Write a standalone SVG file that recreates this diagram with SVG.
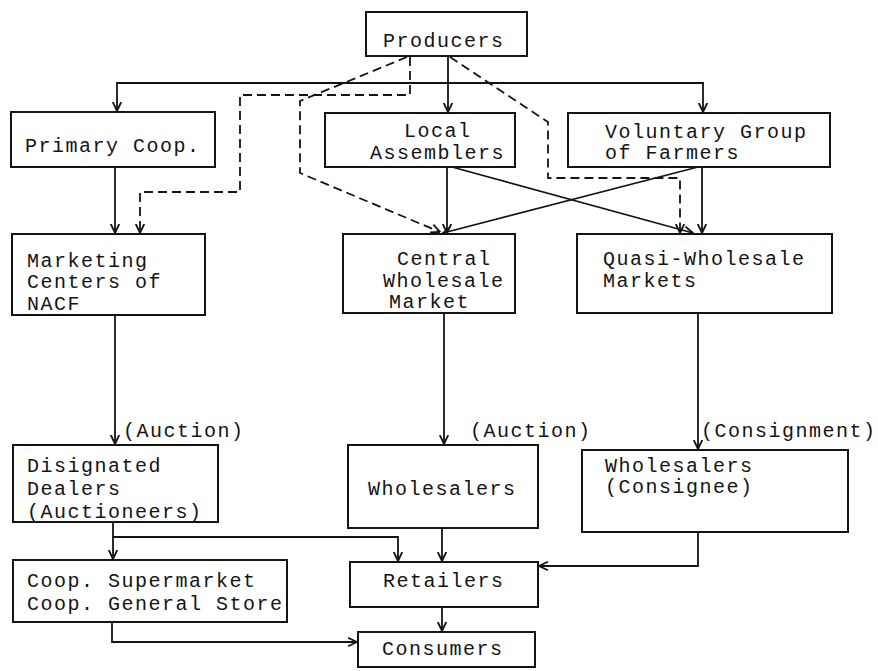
<svg xmlns="http://www.w3.org/2000/svg" width="878" height="671" viewBox="0 0 878 671">
  <defs>
    <style>
      .box { fill: #ffffff; stroke: #141414; stroke-width: 2; }
      .lbl { font-family: "Liberation Mono", "DejaVu Sans Mono", monospace; font-size: 20px; letter-spacing: 1.5px; fill: #141414; }
      .ln { fill: none; stroke: #141414; stroke-width: 1.8; }
      .dash { fill: none; stroke: #141414; stroke-width: 1.8; stroke-dasharray: 9 5; }
    </style>
    <marker id="arr" viewBox="0 0 10 10" refX="9.5" refY="5" markerWidth="10" markerHeight="10" markerUnits="userSpaceOnUse" orient="auto">
      <path d="M0.5,0.8 L9.5,5 L0.5,9.2" fill="none" stroke="#141414" stroke-width="1.8"/>
    </marker>
  </defs>
  <rect width="878" height="671" fill="#ffffff"/>

  <!-- flows -->
  <g id="connectors">
    <!-- Producers to the first-level bodies -->
    <path class="ln" d="M448,56 V112" marker-end="url(#arr)"/>
    <path class="ln" d="M448,83 H117 V111" marker-end="url(#arr)"/>
    <path class="ln" d="M448,83 H703 V112" marker-end="url(#arr)"/>
    <!-- first level to markets -->
    <path class="ln" d="M115,167 V233" marker-end="url(#arr)"/>
    <path class="ln" d="M447,167 V233" marker-end="url(#arr)"/>
    <path class="ln" d="M452,167 L693,233" marker-end="url(#arr)"/>
    <path class="ln" d="M698,167 L443,233" marker-end="url(#arr)"/>
    <path class="ln" d="M702,167 V233" marker-end="url(#arr)"/>
    <!-- direct shipments (dashed) -->
    <path class="dash" d="M410,57 V95 H240 V192 H140 V233" marker-end="url(#arr)"/>
    <path class="dash" d="M407,57 L300,101 V173 L440,232" marker-end="url(#arr)"/>
    <path class="dash" d="M450,57 L548,122 V178 H680 V233" marker-end="url(#arr)"/>
    <!-- markets to dealers / wholesalers -->
    <path class="ln" d="M115,315 V444" marker-end="url(#arr)"/>
    <path class="ln" d="M444,313 V444" marker-end="url(#arr)"/>
    <path class="ln" d="M698,313 V449" marker-end="url(#arr)"/>
    <!-- to retail level -->
    <path class="ln" d="M113,522 V559" marker-end="url(#arr)"/>
    <path class="ln" d="M113,537 H398 V561" marker-end="url(#arr)"/>
    <path class="ln" d="M442,528 V561" marker-end="url(#arr)"/>
    <path class="ln" d="M698,532 V566 H539" marker-end="url(#arr)"/>
    <!-- to consumers -->
    <path class="ln" d="M442,607 V631" marker-end="url(#arr)"/>
    <path class="ln" d="M112,622 V642 H357" marker-end="url(#arr)"/>
  </g>

  <g id="lbl-auction-1"><text class="lbl" x="123" y="437">(Auction)</text></g>
  <g id="lbl-auction-2"><text class="lbl" x="470" y="437">(Auction)</text></g>
  <g id="lbl-consignment"><text class="lbl" x="701" y="437">(Consignment)</text></g>

  <g id="producers">
    <rect class="box" x="366" y="12" width="161" height="44"/>
    <text class="lbl" x="383" y="47">Producers</text>
  </g>
  <g id="primary-coop">
    <rect class="box" x="11" y="112" width="204" height="55"/>
    <text class="lbl" x="25" y="152">Primary Coop.</text>
  </g>
  <g id="local-assemblers">
    <rect class="box" x="325" y="113" width="190" height="54"/>
    <text class="lbl" x="404" y="137">Local</text>
    <text class="lbl" x="370" y="159">Assemblers</text>
  </g>
  <g id="voluntary-group">
    <rect class="box" x="568" y="113" width="262" height="54"/>
    <text class="lbl" x="605" y="138">Voluntary Group</text>
    <text class="lbl" x="605" y="159">of Farmers</text>
  </g>
  <g id="marketing-centers">
    <rect class="box" x="12" y="234" width="193" height="81"/>
    <text class="lbl" x="27" y="267">Marketing</text>
    <text class="lbl" x="27" y="288">Centers of</text>
    <text class="lbl" x="27" y="310">NACF</text>
  </g>
  <g id="central-wholesale">
    <rect class="box" x="343" y="234" width="172" height="79"/>
    <text class="lbl" x="397" y="265">Central</text>
    <text class="lbl" x="383" y="287">Wholesale</text>
    <text class="lbl" x="389" y="308">Market</text>
  </g>
  <g id="quasi-wholesale">
    <rect class="box" x="577" y="234" width="255" height="79"/>
    <text class="lbl" x="603" y="265">Quasi-Wholesale</text>
    <text class="lbl" x="603" y="287">Markets</text>
  </g>
  <g id="designated-dealers">
    <rect class="box" x="13" y="445" width="205" height="77"/>
    <text class="lbl" x="27" y="472">Disignated</text>
    <text class="lbl" x="27" y="495">Dealers</text>
    <text class="lbl" x="27" y="518">(Auctioneers)</text>
  </g>
  <g id="wholesalers">
    <rect class="box" x="348" y="445" width="190" height="83"/>
    <text class="lbl" x="368" y="495">Wholesalers</text>
  </g>
  <g id="wholesalers-consignee">
    <rect class="box" x="582" y="450" width="266" height="82"/>
    <text class="lbl" x="605" y="472">Wholesalers</text>
    <text class="lbl" x="605" y="493">(Consignee)</text>
  </g>
  <g id="coop-stores">
    <rect class="box" x="13" y="560" width="274" height="62"/>
    <text class="lbl" x="27" y="587">Coop. Supermarket</text>
    <text class="lbl" x="27" y="610">Coop. General Store</text>
  </g>
  <g id="retailers">
    <rect class="box" x="350" y="562" width="188" height="45"/>
    <text class="lbl" x="383" y="587">Retailers</text>
  </g>
  <g id="consumers">
    <rect class="box" x="358" y="632" width="177" height="35"/>
    <text class="lbl" x="382" y="655">Consumers</text>
  </g>
</svg>
